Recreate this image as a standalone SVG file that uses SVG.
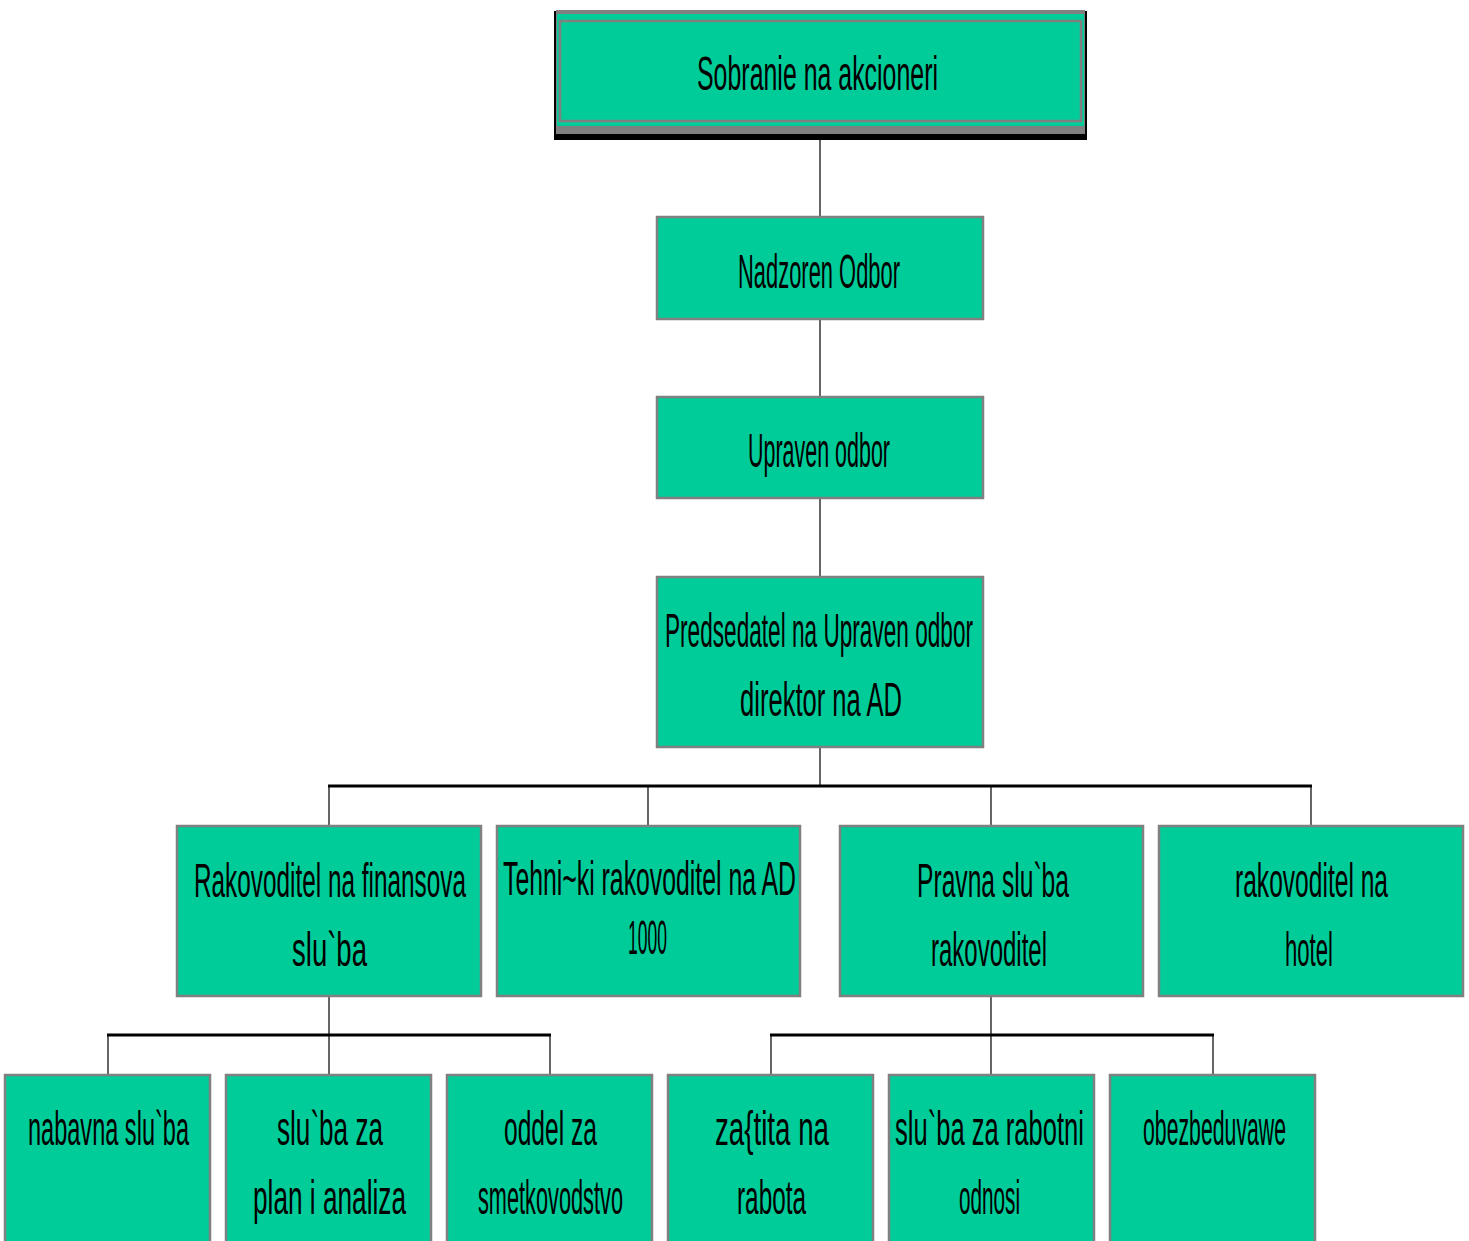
<svg xmlns="http://www.w3.org/2000/svg" width="1469" height="1241" viewBox="0 0 1469 1241">
<style>
.box{fill:#00CC99;stroke:#808080;stroke-width:2.5}
.t{font-family:"Liberation Sans",Arial,sans-serif;font-size:48px;fill:#000;text-anchor:start}
.thin{stroke:#000;stroke-width:1.2;fill:none}
.thick{stroke:#000;stroke-width:3;fill:none}
</style>
<rect width="1469" height="1241" fill="#fff"/>
<g id="connectors">
<path class="thin" d="M820 139V217M820 319V397M820 498V577M820 747V786"/>
<path class="thick" d="M328 786H1312"/>
<path class="thin" d="M329 786V826M648 786V826M991 786V826M1311 786V826"/>
<path class="thin" d="M329 996V1035M991 996V1035"/>
<path class="thick" d="M107 1035H551M770 1035H1214"/>
<path class="thin" d="M108 1035V1075M329 1035V1075M550 1035V1075M771 1035V1075M991 1035V1075M1213 1035V1075"/>
</g>
<g id="n1">
<rect x="554" y="11" width="533" height="129" fill="#000"/>
<rect x="556" y="10" width="529" height="124" fill="#808080"/>
<rect x="557" y="14" width="527" height="112" fill="#00CC99"/>
<rect x="560" y="21" width="521" height="100" fill="none" stroke="#808080" stroke-width="2.5"/>
<text class="t" transform="translate(697 90) scale(0.5 1)" textLength="482" lengthAdjust="spacingAndGlyphs">Sobranie na akcioneri</text>
</g>
<g id="n2">
<rect class="box" x="657" y="217" width="326" height="102"/>
<text class="t" transform="translate(738 288) scale(0.5 1)" textLength="324" lengthAdjust="spacingAndGlyphs">Nadzoren Odbor</text>
</g>
<g id="n3">
<rect class="box" x="657" y="397" width="326" height="101"/>
<text class="t" transform="translate(748 467) scale(0.5 1)" textLength="284" lengthAdjust="spacingAndGlyphs">Upraven odbor</text>
</g>
<g id="n4">
<rect class="box" x="657" y="577" width="326" height="170"/>
<text class="t" transform="translate(665 647) scale(0.5 1)" textLength="616" lengthAdjust="spacingAndGlyphs">Predsedatel na Upraven odbor</text>
<text class="t" transform="translate(740 716) scale(0.5 1)" textLength="324" lengthAdjust="spacingAndGlyphs">direktor na AD</text>
</g>
<g id="n5">
<rect class="box" x="177" y="826" width="304" height="170"/>
<text class="t" transform="translate(194 897) scale(0.5 1)" textLength="544" lengthAdjust="spacingAndGlyphs">Rakovoditel na finansova</text>
<text class="t" transform="translate(292 966) scale(0.5 1)" textLength="150" lengthAdjust="spacingAndGlyphs">slu`ba</text>
</g>
<g id="n6">
<rect class="box" x="497" y="826" width="303" height="170"/>
<text class="t" transform="translate(503 895) scale(0.5 1)" textLength="586" lengthAdjust="spacingAndGlyphs">Tehni~ki rakovoditel na AD</text>
<text class="t" transform="translate(628 954) scale(0.5 1)" textLength="78" lengthAdjust="spacingAndGlyphs">1000</text>
</g>
<g id="n7">
<rect class="box" x="840" y="826" width="303" height="170"/>
<text class="t" transform="translate(917 897) scale(0.5 1)" textLength="304" lengthAdjust="spacingAndGlyphs">Pravna slu`ba</text>
<text class="t" transform="translate(931 966) scale(0.5 1)" textLength="232" lengthAdjust="spacingAndGlyphs">rakovoditel</text>
</g>
<g id="n8">
<rect class="box" x="1159" y="826" width="304" height="170"/>
<text class="t" transform="translate(1235 897) scale(0.5 1)" textLength="306" lengthAdjust="spacingAndGlyphs">rakovoditel na</text>
<text class="t" transform="translate(1285 966) scale(0.5 1)" textLength="96" lengthAdjust="spacingAndGlyphs">hotel</text>
</g>
<g id="n9">
<rect class="box" x="5" y="1075" width="205" height="175"/>
<text class="t" transform="translate(28 1145) scale(0.5 1)" textLength="322" lengthAdjust="spacingAndGlyphs">nabavna slu`ba</text>
</g>
<g id="n10">
<rect class="box" x="226" y="1075" width="205" height="175"/>
<text class="t" transform="translate(277 1145) scale(0.5 1)" textLength="212" lengthAdjust="spacingAndGlyphs">slu`ba za</text>
<text class="t" transform="translate(253 1214) scale(0.5 1)" textLength="306" lengthAdjust="spacingAndGlyphs">plan i analiza</text>
</g>
<g id="n11">
<rect class="box" x="447" y="1075" width="205" height="175"/>
<text class="t" transform="translate(504 1145) scale(0.5 1)" textLength="186" lengthAdjust="spacingAndGlyphs">oddel za</text>
<text class="t" transform="translate(478 1214) scale(0.5 1)" textLength="290" lengthAdjust="spacingAndGlyphs">smetkovodstvo</text>
</g>
<g id="n12">
<rect class="box" x="668" y="1075" width="205" height="175"/>
<text class="t" transform="translate(715 1145) scale(0.5 1)" textLength="228" lengthAdjust="spacingAndGlyphs">za{tita na</text>
<text class="t" transform="translate(737 1214) scale(0.5 1)" textLength="138" lengthAdjust="spacingAndGlyphs">rabota</text>
</g>
<g id="n13">
<rect class="box" x="889" y="1075" width="205" height="175"/>
<text class="t" transform="translate(895 1145) scale(0.5 1)" textLength="378" lengthAdjust="spacingAndGlyphs">slu`ba za rabotni</text>
<text class="t" transform="translate(959 1214) scale(0.5 1)" textLength="122" lengthAdjust="spacingAndGlyphs">odnosi</text>
</g>
<g id="n14">
<rect class="box" x="1110" y="1075" width="205" height="175"/>
<text class="t" transform="translate(1143 1145) scale(0.5 1)" textLength="286" lengthAdjust="spacingAndGlyphs">obezbeduvawe</text>
</g>
</svg>
